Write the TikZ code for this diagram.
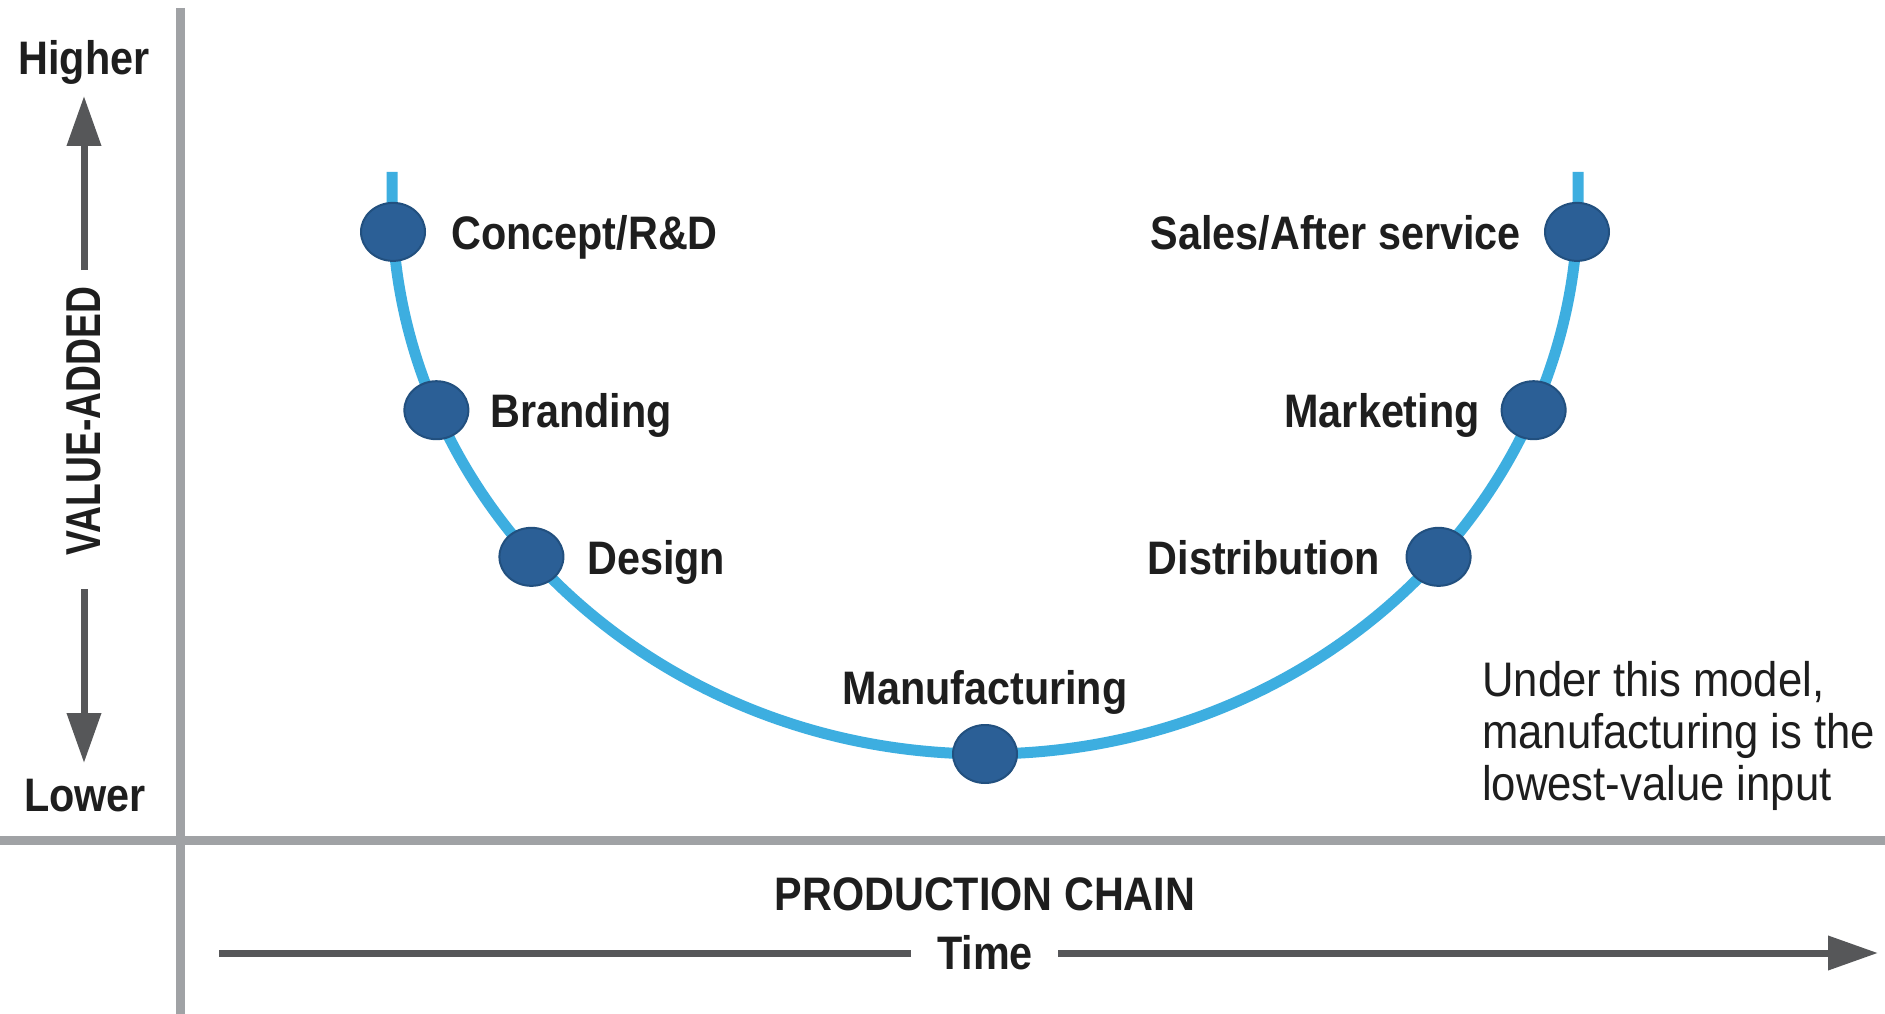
\documentclass[tikz,border=0pt]{standalone}
\usepackage{fontspec}
\setmainfont{Liberation Sans}
\newfontfamily\labfont[FakeStretch=0.88]{Liberation Sans Bold}
\newfontfamily\vafont[FakeStretch=0.76]{Liberation Sans Bold}
\newfontfamily\notefont[FakeStretch=0.9]{Liberation Sans}
\usetikzlibrary{arrows.meta,shapes.geometric}
\definecolor{ublue}{HTML}{3DAEE0}
\definecolor{dotblue}{HTML}{2B5F96}
\definecolor{dotedge}{HTML}{22507F}
\definecolor{axisgray}{HTML}{A0A2A5}
\definecolor{arrowgray}{HTML}{565759}
\definecolor{ink}{HTML}{1E1E1E}
\begin{document}
\begin{tikzpicture}[x=1pt,y=-1pt,
  dot/.style={ellipse, fill=dotblue, draw=dotedge, line width=2pt, minimum width=64pt, minimum height=58pt, inner sep=0pt},
  lab/.style={font=\labfont\fontsize{47}{50}\selectfont, text=ink, inner sep=0pt},
  vlab/.style={font=\vafont\fontsize{49}{50}\selectfont, text=ink, inner sep=0pt},
  notetext/.style={font=\notefont\fontsize{48.5}{52}\selectfont, text=ink, align=left, inner sep=0pt},
  axisline/.style={draw=axisgray, line width=9pt},
  garrow/.style={draw=arrowgray, line width=7pt, -{Triangle[width=33pt,length=50pt]}},
  tline/.style={draw=arrowgray, line width=7pt},
  ucurve/.style={draw=ublue, line width=11pt}
]
\useasboundingbox (0,0) rectangle (1885,1014);
\fill[white] (0,0) rectangle (1885,1014);

% axes
\coordinate (vtop) at (180,8);
\coordinate (vbot) at (180,1014);
\coordinate (hl) at (0,840);
\coordinate (hr) at (1885,840);
\draw[axisline] (vtop) -- (vbot);
\draw[axisline] (hl) -- (hr);

% vertical scale
\node[lab, anchor=base] (higher) at (84,75) {Higher};
\node[lab, anchor=base] (lower) at (85,811) {Lower};
\node[vlab, rotate=90] (va) at (84,421) {VALUE-ADDED};
\coordinate (upS) at (84,270);
\coordinate (upT) at (84,96);
\coordinate (dnS) at (84,589);
\coordinate (dnT) at (84,763);
\draw[garrow] (upS) -- (upT);
\draw[garrow] (dnS) -- (dnT);

% U curve
\coordinate (C) at (985,200);
\draw[ucurve] (392,172) -- (392,200) arc[start angle=180, end angle=0, x radius=593, y radius=554] -- (1578,172);

\path (C) ++(176.7:593 and 554) node[dot] (concept) {};
\path (C) ++(157.7:593 and 554) node[dot] (branding) {};
\path (C) ++(139.9:593 and 554) node[dot] (design) {};
\path (C) ++(90:593 and 554) node[dot] (manuf) {};
\path (C) ++(40.1:593 and 554) node[dot] (distrib) {};
\path (C) ++(22.3:593 and 554) node[dot] (marketing) {};
\path (C) ++(3.3:593 and 554) node[dot] (sales) {};

\node[lab, anchor=base west] (lconcept) at (451,249) {Concept/R\&D};
\node[lab, anchor=base west] (lbranding) at (490,427) {Branding};
\node[lab, anchor=base west] (ldesign) at (587,574) {Design};
\node[lab, anchor=base] (lmanuf) at (985,704) {Manufacturing};
\node[lab, anchor=base east] (ldistrib) at (1380,574) {Distribution};
\node[lab, anchor=base east] (lmarketing) at (1480,427) {Marketing};
\node[lab, anchor=base east] (lsales) at (1521,249) {Sales/After service};

% note
\node[notetext, anchor=north west] (note) at (1482,661) {Under this model,\\manufacturing is the\\lowest-value input};

% production chain
\node[lab, anchor=base] (pc) at (985,910) {PRODUCTION CHAIN};
\node[lab, anchor=base] (time) at (985,969) {Time};
\coordinate (tstart) at (219,953);
\coordinate (tend) at (1878,953);
\coordinate (tgl) at ([xshift=-26pt]time.west);
\coordinate (tgr) at ([xshift=25pt]time.east);
\draw[tline] (tstart) -- (tstart -| tgl);
\draw[garrow] (tend -| tgr) -- (tend);
\end{tikzpicture}
\end{document}
